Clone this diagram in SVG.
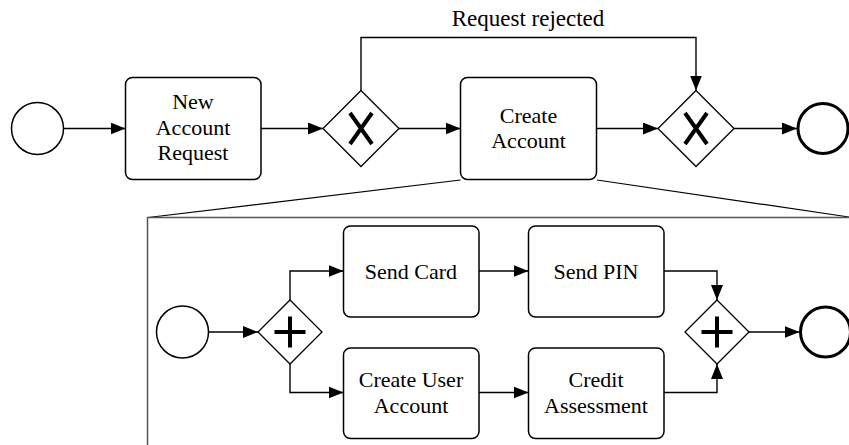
<svg xmlns="http://www.w3.org/2000/svg" width="849" height="445" viewBox="0 0 849 445">
<style>
.t{font-family:"Liberation Serif","DejaVu Serif",serif;font-size:22px;fill:#000;text-anchor:middle}
.box{fill:#fff;stroke:#000;stroke-width:1.5}
.ev{fill:#fff;stroke:#000;stroke-width:1.5}
.end{fill:#fff;stroke:#000;stroke-width:3}
.gw{fill:#fff;stroke:#000;stroke-width:1.3}
.mk{stroke:#000;stroke-width:4;fill:none}
.c{fill:none;stroke:#000;stroke-width:1.4}
.zoom{fill:none;stroke:#000;stroke-width:1.2}
.frame{fill:none;stroke:#555;stroke-width:1.5}
</style>
<defs>
<marker id="ah" markerUnits="userSpaceOnUse" markerWidth="16" markerHeight="13" refX="15" refY="6" orient="auto">
<path d="M0,0 L15,6 L0,12 z" fill="#000"/>
</marker>
</defs>

<g id="zoom-lines">
<path class="zoom" d="M460.5,180 L148,217.5"/>
<path class="zoom" d="M597,180 L849,217"/>
<path class="frame" d="M147.5,445 L147.5,217.5 L849,217.5"/>
</g>

<g id="connectors">
<path class="c" d="M63.5,128.5 L125.5,128.5" marker-end="url(#ah)"/>
<path class="c" d="M261,128.5 L323,128.5" marker-end="url(#ah)"/>
<path class="c" d="M399,128.5 L460.5,128.5" marker-end="url(#ah)"/>
<path class="c" d="M361,90.5 L361,37.5 L696,37.5 L696,90.5" marker-end="url(#ah)"/>
<path class="c" d="M596.5,128.5 L658,128.5" marker-end="url(#ah)"/>
<path class="c" d="M734,128.5 L797,128.5" marker-end="url(#ah)"/>
<path class="c" d="M208.5,332 L258,332" marker-end="url(#ah)"/>
<path class="c" d="M290,300 L290,271 L343.5,271" marker-end="url(#ah)"/>
<path class="c" d="M290,364 L290,392.5 L343.5,392.5" marker-end="url(#ah)"/>
<path class="c" d="M479,271 L528.5,271" marker-end="url(#ah)"/>
<path class="c" d="M479,392.5 L528.5,392.5" marker-end="url(#ah)"/>
<path class="c" d="M664,271 L717,271 L717,300" marker-end="url(#ah)"/>
<path class="c" d="M664,392.5 L717,392.5 L717,364" marker-end="url(#ah)"/>
<path class="c" d="M749,332 L799.5,332" marker-end="url(#ah)"/>
</g>
<text class="t" x="528" y="26" style="font-size:23px">Request rejected</text>

<g id="start">
<circle class="ev" cx="37.5" cy="128.5" r="26"/>
</g>
<g id="new-account-request">
<rect class="box" x="125.5" y="77.5" width="135.5" height="102" rx="7"/>
<text class="t" x="193" y="109">New</text>
<text class="t" x="193" y="134.5">Account</text>
<text class="t" x="193" y="160">Request</text>
</g>
<g id="gateway-split">
<path class="gw" d="M361,90.5 L399,128.5 L361,166.5 L323,128.5 z"/>
<path class="mk" d="M350,113 L372,144 M372,113 L350,144"/>
</g>
<g id="create-account">
<rect class="box" x="460.5" y="77.5" width="136" height="102" rx="7"/>
<text class="t" x="528.5" y="122.5">Create</text>
<text class="t" x="528.5" y="148">Account</text>
</g>
<g id="gateway-merge">
<path class="gw" d="M696,90.5 L734,128.5 L696,166.5 L658,128.5 z"/>
<path class="mk" d="M685,113 L707,144 M707,113 L685,144"/>
</g>
<g id="end">
<circle class="end" cx="823" cy="128.5" r="25"/>
</g>

<g id="sub-start">
<circle class="ev" cx="182.5" cy="332" r="26"/>
</g>
<g id="sub-fork">
<path class="gw" d="M290,300 L322,332 L290,364 L258,332 z"/>
<path class="mk" d="M274.5,332 L305.5,332 M290,316.5 L290,347.5" stroke-width="4.5"/>
</g>
<g id="send-card">
<rect class="box" x="343.5" y="226" width="135.5" height="91" rx="7"/>
<text class="t" x="411" y="279">Send Card</text>
</g>
<g id="send-pin">
<rect class="box" x="528.5" y="226" width="135.5" height="91" rx="7"/>
<text class="t" x="596" y="279">Send PIN</text>
</g>
<g id="create-user-account">
<rect class="box" x="343.5" y="348" width="135.5" height="90.5" rx="7"/>
<text class="t" x="411" y="387">Create User</text>
<text class="t" x="411" y="412.5">Account</text>
</g>
<g id="credit-assessment">
<rect class="box" x="528.5" y="348" width="135.5" height="90.5" rx="7"/>
<text class="t" x="596" y="387">Credit</text>
<text class="t" x="596" y="412.5">Assessment</text>
</g>
<g id="sub-join">
<path class="gw" d="M717,300 L749,332 L717,364 L685,332 z"/>
<path class="mk" d="M701.5,332 L732.5,332 M717,316.5 L717,347.5" stroke-width="4.5"/>
</g>
<g id="sub-end">
<circle class="end" cx="825.5" cy="332" r="25"/>
</g>
</svg>
